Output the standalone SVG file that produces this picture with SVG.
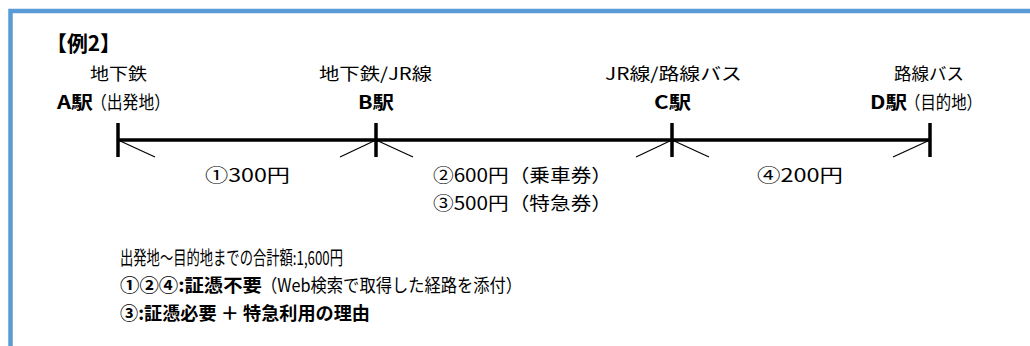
<svg xmlns="http://www.w3.org/2000/svg" width="1030" height="346" viewBox="0 0 1030 346">
<style>
text{font-family:"Noto Sans CJK JP","Noto Sans CJK SC",sans-serif;font-size:17px;fill:#000}
.b{font-weight:bold}
.t{font-size:21px;font-weight:bold}
.f{font-size:18px}
.n{font-size:18px}
.s{font-size:18px}
.m{font-size:19px}
.main{stroke:#000;stroke-width:3.5;fill:none}
.tick{stroke:#000;stroke-width:3.5}
.diag{stroke:#000;stroke-width:1.2}
.frame{stroke:#5B9BD5;stroke-width:4.5;fill:none}
</style>
<rect width="1030" height="346" fill="#fff"/>
<path class="frame" d="M1032 11 H10.5 V348"/>
<text id="title" class="t" x="46" y="51" textLength="75" lengthAdjust="spacingAndGlyphs">【例2】</text>

<g id="station-A">
<text x="90" y="80" textLength="57" lengthAdjust="spacingAndGlyphs">地下鉄</text>
<text class="s" x="57" y="109"><tspan class="b" textLength="36" lengthAdjust="spacingAndGlyphs">A駅</tspan><tspan x="91" textLength="79" lengthAdjust="spacingAndGlyphs">（出発地）</tspan></text>
<line class="tick" x1="118" y1="123" x2="118" y2="157"/>
</g>
<g id="station-B">
<text x="319" y="80" textLength="113" lengthAdjust="spacingAndGlyphs">地下鉄/JR線</text>
<text class="s b" x="358" y="109" textLength="36" lengthAdjust="spacingAndGlyphs">B駅</text>
<line class="tick" x1="376" y1="123" x2="376" y2="157"/>
</g>
<g id="station-C">
<text x="605" y="80" textLength="137" lengthAdjust="spacingAndGlyphs">JR線/路線バス</text>
<text class="s b" x="654" y="109" textLength="37" lengthAdjust="spacingAndGlyphs">C駅</text>
<line class="tick" x1="672" y1="123" x2="672" y2="157"/>
</g>
<g id="station-D">
<text x="894" y="80" textLength="70" lengthAdjust="spacingAndGlyphs">路線バス</text>
<text class="s" x="870" y="109"><tspan class="b" textLength="37" lengthAdjust="spacingAndGlyphs">D駅</tspan><tspan x="905" textLength="77" lengthAdjust="spacingAndGlyphs">（目的地）</tspan></text>
<line class="tick" x1="930" y1="123" x2="930" y2="157"/>
</g>

<g id="connectors">
<line class="main" x1="118" y1="140" x2="930" y2="140"/>
<line class="diag" x1="118" y1="140" x2="155" y2="157"/>
<line class="diag" x1="376" y1="140" x2="340" y2="157"/>
<line class="diag" x1="376" y1="140" x2="413" y2="157"/>
<line class="diag" x1="672" y1="140" x2="636" y2="157"/>
<line class="diag" x1="672" y1="140" x2="709" y2="157"/>
<line class="diag" x1="930" y1="140" x2="893" y2="157"/>
<text class="f" x="205" y="182" textLength="85" lengthAdjust="spacingAndGlyphs">①300円</text>
<text class="f" x="433" y="182" textLength="179" lengthAdjust="spacingAndGlyphs">②600円（乗車券）</text>
<text class="f" x="433" y="210" textLength="179" lengthAdjust="spacingAndGlyphs">③500円（特急券）</text>
<text class="f" x="757" y="182" textLength="86" lengthAdjust="spacingAndGlyphs">④200円</text>
</g>

<g id="notes">
<text class="m" x="120" y="265" textLength="223" lengthAdjust="spacingAndGlyphs">出発地～目的地までの合計額:1,600円</text>
<text class="n" x="120" y="292"><tspan class="b" textLength="142" lengthAdjust="spacingAndGlyphs">①②④:証憑不要</tspan><tspan x="261" textLength="261" lengthAdjust="spacingAndGlyphs">（Web検索で取得した経路を添付）</tspan></text>
<text class="n b" x="120" y="320" textLength="250" lengthAdjust="spacingAndGlyphs">③:証憑必要 ＋ 特急利用の理由</text>
</g>
</svg>
